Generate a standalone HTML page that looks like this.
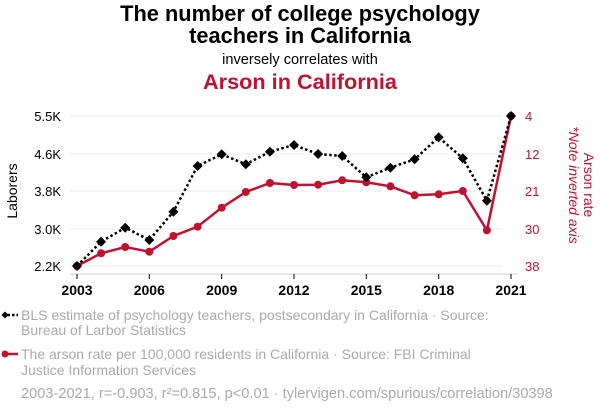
<!DOCTYPE html>
<html><head><meta charset="utf-8"><style>
body{margin:0;background:#fff;}
svg{display:block;font-family:"Liberation Sans",Arial,sans-serif;}
</style></head><body>
<svg width="600" height="414" viewBox="0 0 600 414">
<g text-anchor="middle">
<text x="300" y="21" font-size="21.8" font-weight="bold" fill="#000">The number of college psychology</text>
<text x="300" y="43" font-size="21.8" font-weight="bold" fill="#000">teachers in California</text>
<text x="300" y="64" font-size="14.6" fill="#000">inversely correlates with</text>
<text x="300" y="89" font-size="21.7" font-weight="bold" fill="#c0122f">Arson in California</text>
</g>
<g stroke="#eee" stroke-width="1">
<line x1="70" x2="502" y1="116" y2="116"/><line x1="70" x2="502" y1="154" y2="154"/>
<line x1="70" x2="502" y1="191" y2="191"/><line x1="70" x2="502" y1="229" y2="229"/>
<line x1="70" x2="502" y1="266" y2="266"/>
</g>
<line x1="70" x2="518" y1="274" y2="274" stroke="#ccc"/>
<g stroke="#000"><line x1="77" x2="77" y1="274" y2="279"/><line x1="149.3" x2="149.3" y1="274" y2="279"/><line x1="221.7" x2="221.7" y1="274" y2="279"/><line x1="294" x2="294" y1="274" y2="279"/><line x1="366.3" x2="366.3" y1="274" y2="279"/><line x1="438.7" x2="438.7" y1="274" y2="279"/><line x1="511" x2="511" y1="274" y2="279"/></g>
<g font-size="13" fill="#000" text-anchor="end">
<text x="61" y="121">5.5K</text><text x="61" y="159">4.6K</text><text x="61" y="196">3.8K</text><text x="61" y="234">3.0K</text><text x="61" y="271">2.2K</text>
</g>
<g font-size="14" font-weight="bold" fill="#000" text-anchor="middle">
<text x="77" y="295">2003</text><text x="149.3" y="295">2006</text><text x="221.7" y="295">2009</text><text x="294" y="295">2012</text><text x="366.3" y="295">2015</text><text x="438.7" y="295">2018</text><text x="511" y="295">2021</text>
</g>
<g font-size="13" fill="#c0122f" text-anchor="start">
<text x="525" y="121">4</text><text x="525" y="159">12</text><text x="525" y="196">21</text><text x="525" y="234">30</text><text x="525" y="271">38</text>
</g>
<text transform="translate(17,191) rotate(-90)" font-size="14" text-anchor="middle" fill="#000">Laborers</text>
<text transform="translate(584,185) rotate(90)" font-size="14" text-anchor="middle" fill="#c0122f">Arson rate</text>
<text transform="translate(569,185) rotate(90)" font-size="14" font-style="italic" text-anchor="middle" fill="#c0122f">*Note inverted axis</text>
<polyline fill="none" stroke="#c0122f" stroke-width="2.5" points="77,266 101.1,253.3 125.2,247 149.3,251.7 173.4,236 197.6,226.7 221.7,207.7 245.8,192 269.9,183 294,185 318.1,184.7 342.2,180.3 366.3,182.3 390.4,186.3 414.6,195.3 438.7,194.3 462.8,191 486.9,230.3 511,116"/>
<g fill="#c0122f">
<circle cx="77" cy="266" r="4"/><circle cx="101.1" cy="253.3" r="4"/><circle cx="125.2" cy="247" r="4"/><circle cx="149.3" cy="251.7" r="4"/><circle cx="173.4" cy="236" r="4"/><circle cx="197.6" cy="226.7" r="4"/><circle cx="221.7" cy="207.7" r="4"/><circle cx="245.8" cy="192" r="4"/><circle cx="269.9" cy="183" r="4"/><circle cx="294" cy="185" r="4"/><circle cx="318.1" cy="184.7" r="4"/><circle cx="342.2" cy="180.3" r="4"/><circle cx="366.3" cy="182.3" r="4"/><circle cx="390.4" cy="186.3" r="4"/><circle cx="414.6" cy="195.3" r="4"/><circle cx="438.7" cy="194.3" r="4"/><circle cx="462.8" cy="191" r="4"/><circle cx="486.9" cy="230.3" r="4"/><circle cx="511" cy="116" r="4"/>
</g>
<polyline fill="none" stroke="#000" stroke-width="2.5" stroke-dasharray="2.5,2.5" points="77,266 101.1,241.7 125.2,227.7 149.3,240 173.4,211.7 197.6,166 221.7,154.3 245.8,164.3 269.9,151.7 294,145 318.1,154 342.2,156 366.3,177.3 390.4,167.7 414.6,159.3 438.7,137.3 462.8,158.3 486.9,200.7 511,116"/>
<g fill="#000">
<path d="M77,261l5,5l-5,5l-5,-5z"/><path d="M101.1,236.7l5,5l-5,5l-5,-5z"/><path d="M125.2,222.7l5,5l-5,5l-5,-5z"/><path d="M149.3,235l5,5l-5,5l-5,-5z"/><path d="M173.4,206.7l5,5l-5,5l-5,-5z"/><path d="M197.6,161l5,5l-5,5l-5,-5z"/><path d="M221.7,149.3l5,5l-5,5l-5,-5z"/><path d="M245.8,159.3l5,5l-5,5l-5,-5z"/><path d="M269.9,146.7l5,5l-5,5l-5,-5z"/><path d="M294,140l5,5l-5,5l-5,-5z"/><path d="M318.1,149l5,5l-5,5l-5,-5z"/><path d="M342.2,151l5,5l-5,5l-5,-5z"/><path d="M366.3,172.3l5,5l-5,5l-5,-5z"/><path d="M390.4,162.7l5,5l-5,5l-5,-5z"/><path d="M414.6,154.3l5,5l-5,5l-5,-5z"/><path d="M438.7,132.3l5,5l-5,5l-5,-5z"/><path d="M462.8,153.3l5,5l-5,5l-5,-5z"/><path d="M486.9,195.7l5,5l-5,5l-5,-5z"/><path d="M511,111l5,5l-5,5l-5,-5z"/>
</g>
<line x1="3" x2="18" y1="315" y2="315" stroke="#000" stroke-width="2.5" stroke-dasharray="2.5,2"/>
<path d="M5,311.5l3.5,3.5l-3.5,3.5l-3.5,-3.5z" fill="#000"/>
<line x1="4" x2="18" y1="354" y2="354" stroke="#c0122f" stroke-width="2.5"/>
<circle cx="5" cy="354" r="3.5" fill="#c0122f"/>
<g font-size="14" fill="#aaa">
<text x="21" y="320">BLS estimate of psychology teachers, postsecondary in California · Source:</text>
<text x="21" y="335">Bureau of Larbor Statistics</text>
<text x="21" y="359">The arson rate per 100,000 residents in California · Source: FBI Criminal</text>
<text x="21" y="375">Justice Information Services</text>
<text x="21" y="398" font-size="14.6">2003-2021, r=-0.903, r²=0.815, p&lt;0.01 · tylervigen.com/spurious/correlation/30398</text>
</g>
</svg>
</body></html>
